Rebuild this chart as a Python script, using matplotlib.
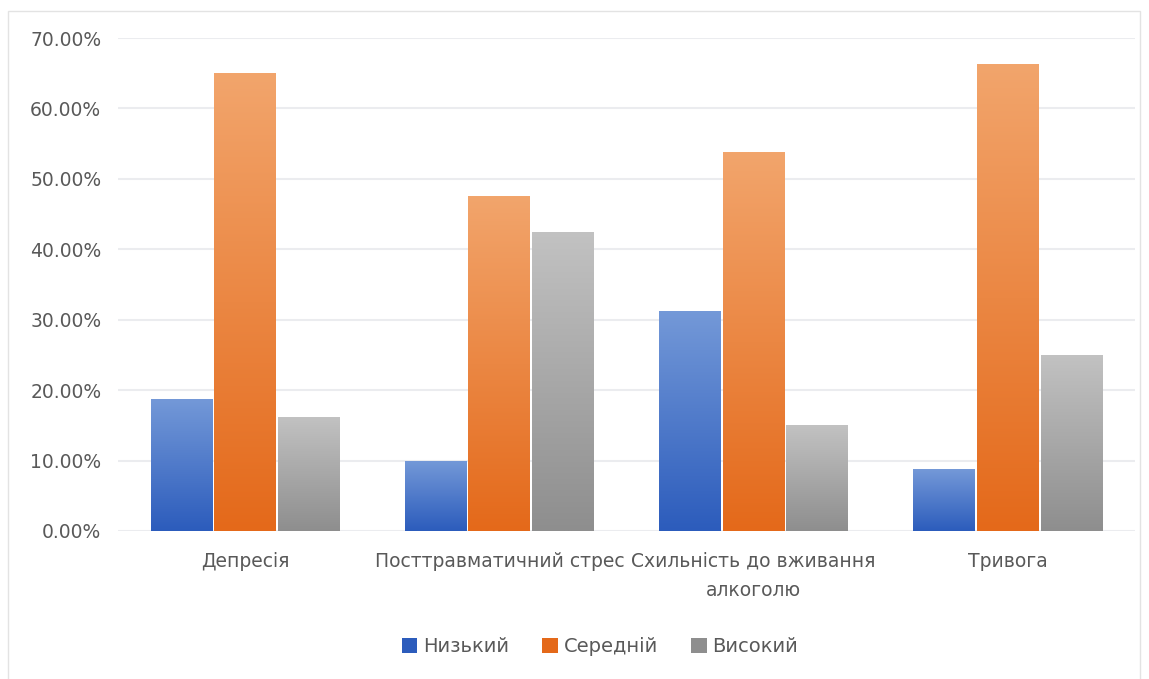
import numpy as np
import matplotlib

matplotlib.use("Agg")
import matplotlib.pyplot as plt
from matplotlib.colors import LinearSegmentedColormap
from matplotlib.patches import Rectangle
from matplotlib.ticker import FuncFormatter

categories = ["Депресія", "Посттравматичний стрес", "Схильність до вживання\nалкоголю", "Тривога"]
series_names = ["Низький", "Середній", "Високий"]
low = [18.75, 10.0, 31.25, 8.75]
medium = [65.0, 47.5, 53.75, 66.25]
high = [16.25, 42.5, 15.0, 25.0]

# (top colour, bottom colour) for each series' vertical gradient
gradients = [("#7499d8", "#2c5cbc"), ("#f2a56c", "#e4691a"), ("#c2c2c2", "#8e8e8e")]

plt.rcParams["font.family"] = ["DejaVu Sans"]
text_color = "#595959"

fig = plt.figure(figsize=(11.49, 6.79), dpi=100)
fig.patches.append(Rectangle((8 / 1149, -0.01), 1132 / 1149, 1 - 11 / 679 + 0.01,
                             transform=fig.transFigure, fill=False, edgecolor="#e3e3e3", linewidth=1))
ax = fig.add_axes([118 / 1149, (679 - 531) / 679, (1135 - 118) / 1149, (531 - 38) / 679])

x = np.arange(len(categories))
step = 0.25
width = 0.243
handles = []
for i, (values, name) in enumerate(zip([low, medium, high], series_names)):
    top, bottom = gradients[i]
    cmap = LinearSegmentedColormap.from_list(name, [bottom, top])
    bars = ax.bar(x + (i - 1) * step, values, width, color=bottom, edgecolor="none", label=name, zorder=2)
    for bar in bars:
        x0, y0 = bar.get_x(), bar.get_y()
        w, h = bar.get_width(), bar.get_height()
        grad = np.linspace(0, 1, 256).reshape(-1, 1)
        im = ax.imshow(grad, cmap=cmap, origin="lower", extent=[x0, x0 + w, y0, y0 + h],
                       aspect="auto", zorder=3)
        im.set_clip_path(bar)
    handles.append(bars)

ax.set_xlim(-0.5, len(categories) - 0.5)
ax.set_ylim(0, 70)
ax.set_yticks(np.arange(0, 71, 10))
ax.yaxis.set_major_formatter(FuncFormatter(lambda v, _: f"{v:.2f}%"))
ax.set_xticks(x)
ax.set_xticklabels(categories, fontsize=13.5, color=text_color, linespacing=1.7)
ax.tick_params(axis="y", labelsize=13.5, labelcolor=text_color, length=0, pad=12)
ax.tick_params(axis="x", length=0, pad=15)
ax.grid(axis="y", color="#ebecef", linewidth=1.5, zorder=0)
ax.set_axisbelow(True)
for side in ax.spines.values():
    side.set_visible(False)

fig.legend(handles, series_names, loc="center", bbox_to_anchor=(600 / 1149, 1 - 647 / 679), ncol=3,
           frameon=False, fontsize=14, labelcolor=text_color, handlelength=0.8, handleheight=0.8,
           handletextpad=0.3, columnspacing=1.7)

fig.savefig("out.png", dpi=100)
